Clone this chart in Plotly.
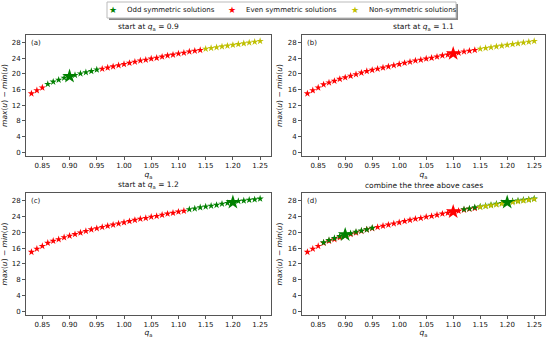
import plotly.graph_objects as go

# q_a grid
qa = [0.83, 0.84, 0.85, 0.86, 0.87, 0.88, 0.89, 0.90, 0.91, 0.92, 0.93, 0.94, 0.95,
      0.96, 0.97, 0.98, 0.99, 1.00, 1.01, 1.02, 1.03, 1.04, 1.05, 1.06, 1.07, 1.08,
      1.09, 1.10, 1.11, 1.12, 1.13, 1.14, 1.15, 1.16, 1.17, 1.18, 1.19, 1.20, 1.21,
      1.22, 1.23, 1.24, 1.25]
# even symmetric branch (0.83 .. 1.14)
even_q = qa[:32]
even_v = [15.0, 15.8, 16.5, 17.3, 17.8, 18.2, 18.7, 19.1, 19.5, 19.9, 20.3, 20.7, 21.0,
          21.3, 21.6, 21.9, 22.2, 22.5, 22.8, 23.1, 23.4, 23.6, 23.9, 24.1, 24.4, 24.7,
          24.9, 25.2, 25.4, 25.7, 25.9, 26.1]
# odd symmetric branch from q_a=0.9 (0.86 .. 0.95)
odd_a_q = qa[3:13]
odd_a_v = [17.4, 18.0, 18.5, 19.0, 19.4, 19.7, 20.1, 20.4, 20.7, 21.1]
# non-symmetric branch (1.15 .. 1.25)
non_q = qa[32:]
non_v = [26.4, 26.6, 26.8, 27.0, 27.2, 27.4, 27.6, 27.8, 28.0, 28.2, 28.4]
# odd symmetric branch from q_a=1.2 (1.12 .. 1.25)
odd_c_q = qa[29:]
odd_c_v = [25.8, 26.0, 26.3, 26.5, 26.7, 26.9, 27.2, 27.4, 27.6, 27.9, 28.0, 28.2, 28.3, 28.5]

titles = ["start at <i>q</i><sub>a</sub> = 0.9", "start at <i>q</i><sub>a</sub> = 1.1",
          "start at <i>q</i><sub>a</sub> = 1.2", "combine the three above cases"]
labels = ["(a)", "(b)", "(c)", "(d)"]
legend_names = ["Odd symmetric solutions", "Even symmetric solutions", "Non-symmetric solutions"]
x_ticks = [0.85, 0.90, 0.95, 1.00, 1.05, 1.10, 1.15, 1.20, 1.25]
y_ticks = [0, 4, 8, 12, 16, 20, 24, 28]

GREEN, RED, YEL = "#008000", "#ff0000", "#bfbf00"
SMALL, BIG = 5.5, 11

fig = go.Figure()

def pts(q, v, col, ax, size=SMALL):
    fig.add_trace(go.Scatter(x=q, y=v, mode="markers",
                             marker=dict(symbol="star", size=size, color=col, line=dict(width=0)),
                             xaxis="x" + ax, yaxis="y" + ax, showlegend=False, hoverinfo="skip"))

def big(q0, q, v, col, ax):
    i = q.index(q0)
    pts([q[i]], [v[i]], col, ax, size=BIG)

# (a)
pts(even_q[:3], even_v[:3], RED, "")
pts(even_q[13:], even_v[13:], RED, "")
pts(odd_a_q, odd_a_v, GREEN, "")
pts(non_q, non_v, YEL, "")
big(0.90, odd_a_q, odd_a_v, GREEN, "")
# (b)
pts(even_q, even_v, RED, "2")
pts(non_q, non_v, YEL, "2")
big(1.10, even_q, even_v, RED, "2")
# (c)
pts(qa[:29], even_v[:29], RED, "3")
pts(odd_c_q, odd_c_v, GREEN, "3")
big(1.20, odd_c_q, odd_c_v, GREEN, "3")
# (d)
pts(even_q, even_v, RED, "4")
pts(odd_a_q, odd_a_v, GREEN, "4")
pts(odd_c_q, odd_c_v, GREEN, "4")
pts(non_q, non_v, YEL, "4")
big(0.90, odd_a_q, odd_a_v, GREEN, "4")
big(1.10, even_q, even_v, RED, "4")
big(1.20, odd_c_q, odd_c_v, GREEN, "4")

W, H = 550, 338
xdoms = [[26 / W, 271 / W], [302 / W, 545 / W]]
ydoms = [[1 - 156 / H, 1 - 35 / H], [1 - 315 / H, 1 - 193 / H]]
FAM = "DejaVu Sans"
tick_font = dict(family=FAM, size=7, color="#111")
lab_font = dict(family=FAM, size=7.5, color="#111")
title_font = dict(family=FAM, size=7.5, color="#111")
leg_font = dict(family=FAM, size=7, color="#111")

annotations = []
shapes = []

# legend box (with a slight shadow like matplotlib's)
shapes.append(dict(type="rect", xref="paper", yref="paper",
                   x0=109 / W, x1=458 / W, y0=1 - 20 / H, y1=1 - 4 / H,
                   line=dict(width=0), fillcolor="#888", layer="above"))
shapes.append(dict(type="rect", xref="paper", yref="paper",
                   x0=107 / W, x1=456 / W, y0=1 - 18 / H, y1=1 - 2 / H,
                   line=dict(width=1, color="#bbb"), fillcolor="white", layer="above"))
leg_cols = [GREEN, RED, YEL]
leg_x = [113, 232, 355]
for name, c, x0 in zip(legend_names, leg_cols, leg_x):
    annotations.append(dict(text="★", x=x0 / W, y=1 - 10 / H, xref="paper", yref="paper",
                            xanchor="center", yanchor="middle", showarrow=False,
                            font=dict(family=FAM, size=9, color=c)))
    annotations.append(dict(text=name, x=(x0 + 12) / W, y=1 - 10 / H, xref="paper", yref="paper",
                            xanchor="left", yanchor="middle", showarrow=False, font=leg_font))

layout = dict(width=W, height=H, margin=dict(l=0, r=0, t=0, b=0, autoexpand=False),
              plot_bgcolor="white", paper_bgcolor="white", font=tick_font, showlegend=False)

for k in range(4):
    sfx = "" if k == 0 else str(k + 1)
    col, row = k % 2, k // 2
    xa = dict(domain=xdoms[col], range=[0.82, 1.27], tickvals=x_ticks,
              ticktext=[f"{t:.2f}" for t in x_ticks], showgrid=False, zeroline=False,
              showline=True, linecolor="#555", linewidth=1, mirror=True,
              ticks="outside", ticklen=3, tickcolor="#555", tickfont=tick_font,
              anchor="y" + sfx, automargin=False,
              title=dict(text="<i>q</i><sub>a</sub>", font=lab_font, standoff=2))
    ya = dict(domain=ydoms[row], range=[-0.95, 29.95], tickvals=y_ticks, showgrid=False,
              zeroline=False, showline=True, linecolor="#555", linewidth=1, mirror=True,
              ticks="outside", ticklen=3, tickcolor="#555", tickfont=tick_font,
              anchor="x" + sfx, automargin=False,
              title=dict(text="<i>max</i>(<i>u</i>) − <i>min</i>(<i>u</i>)", font=lab_font, standoff=4))
    layout["xaxis" + sfx] = xa
    layout["yaxis" + sfx] = ya
    xmid = (xdoms[col][0] + xdoms[col][1]) / 2
    annotations.append(dict(text=titles[k], x=xmid, y=ydoms[row][1], xref="paper",
                            yref="paper", xanchor="center", yanchor="bottom",
                            showarrow=False, font=title_font, yshift=1))
    annotations.append(dict(text=labels[k], x=xdoms[col][0], y=ydoms[row][1], xref="paper",
                            yref="paper", xanchor="left", yanchor="top", xshift=3, yshift=-2,
                            showarrow=False, font=tick_font))

layout["annotations"] = annotations
layout["shapes"] = shapes
fig.update_layout(**layout)
fig.write_html("out.html", config={"displayModeBar": False},
               post_script="document.body.style.margin='0';")
